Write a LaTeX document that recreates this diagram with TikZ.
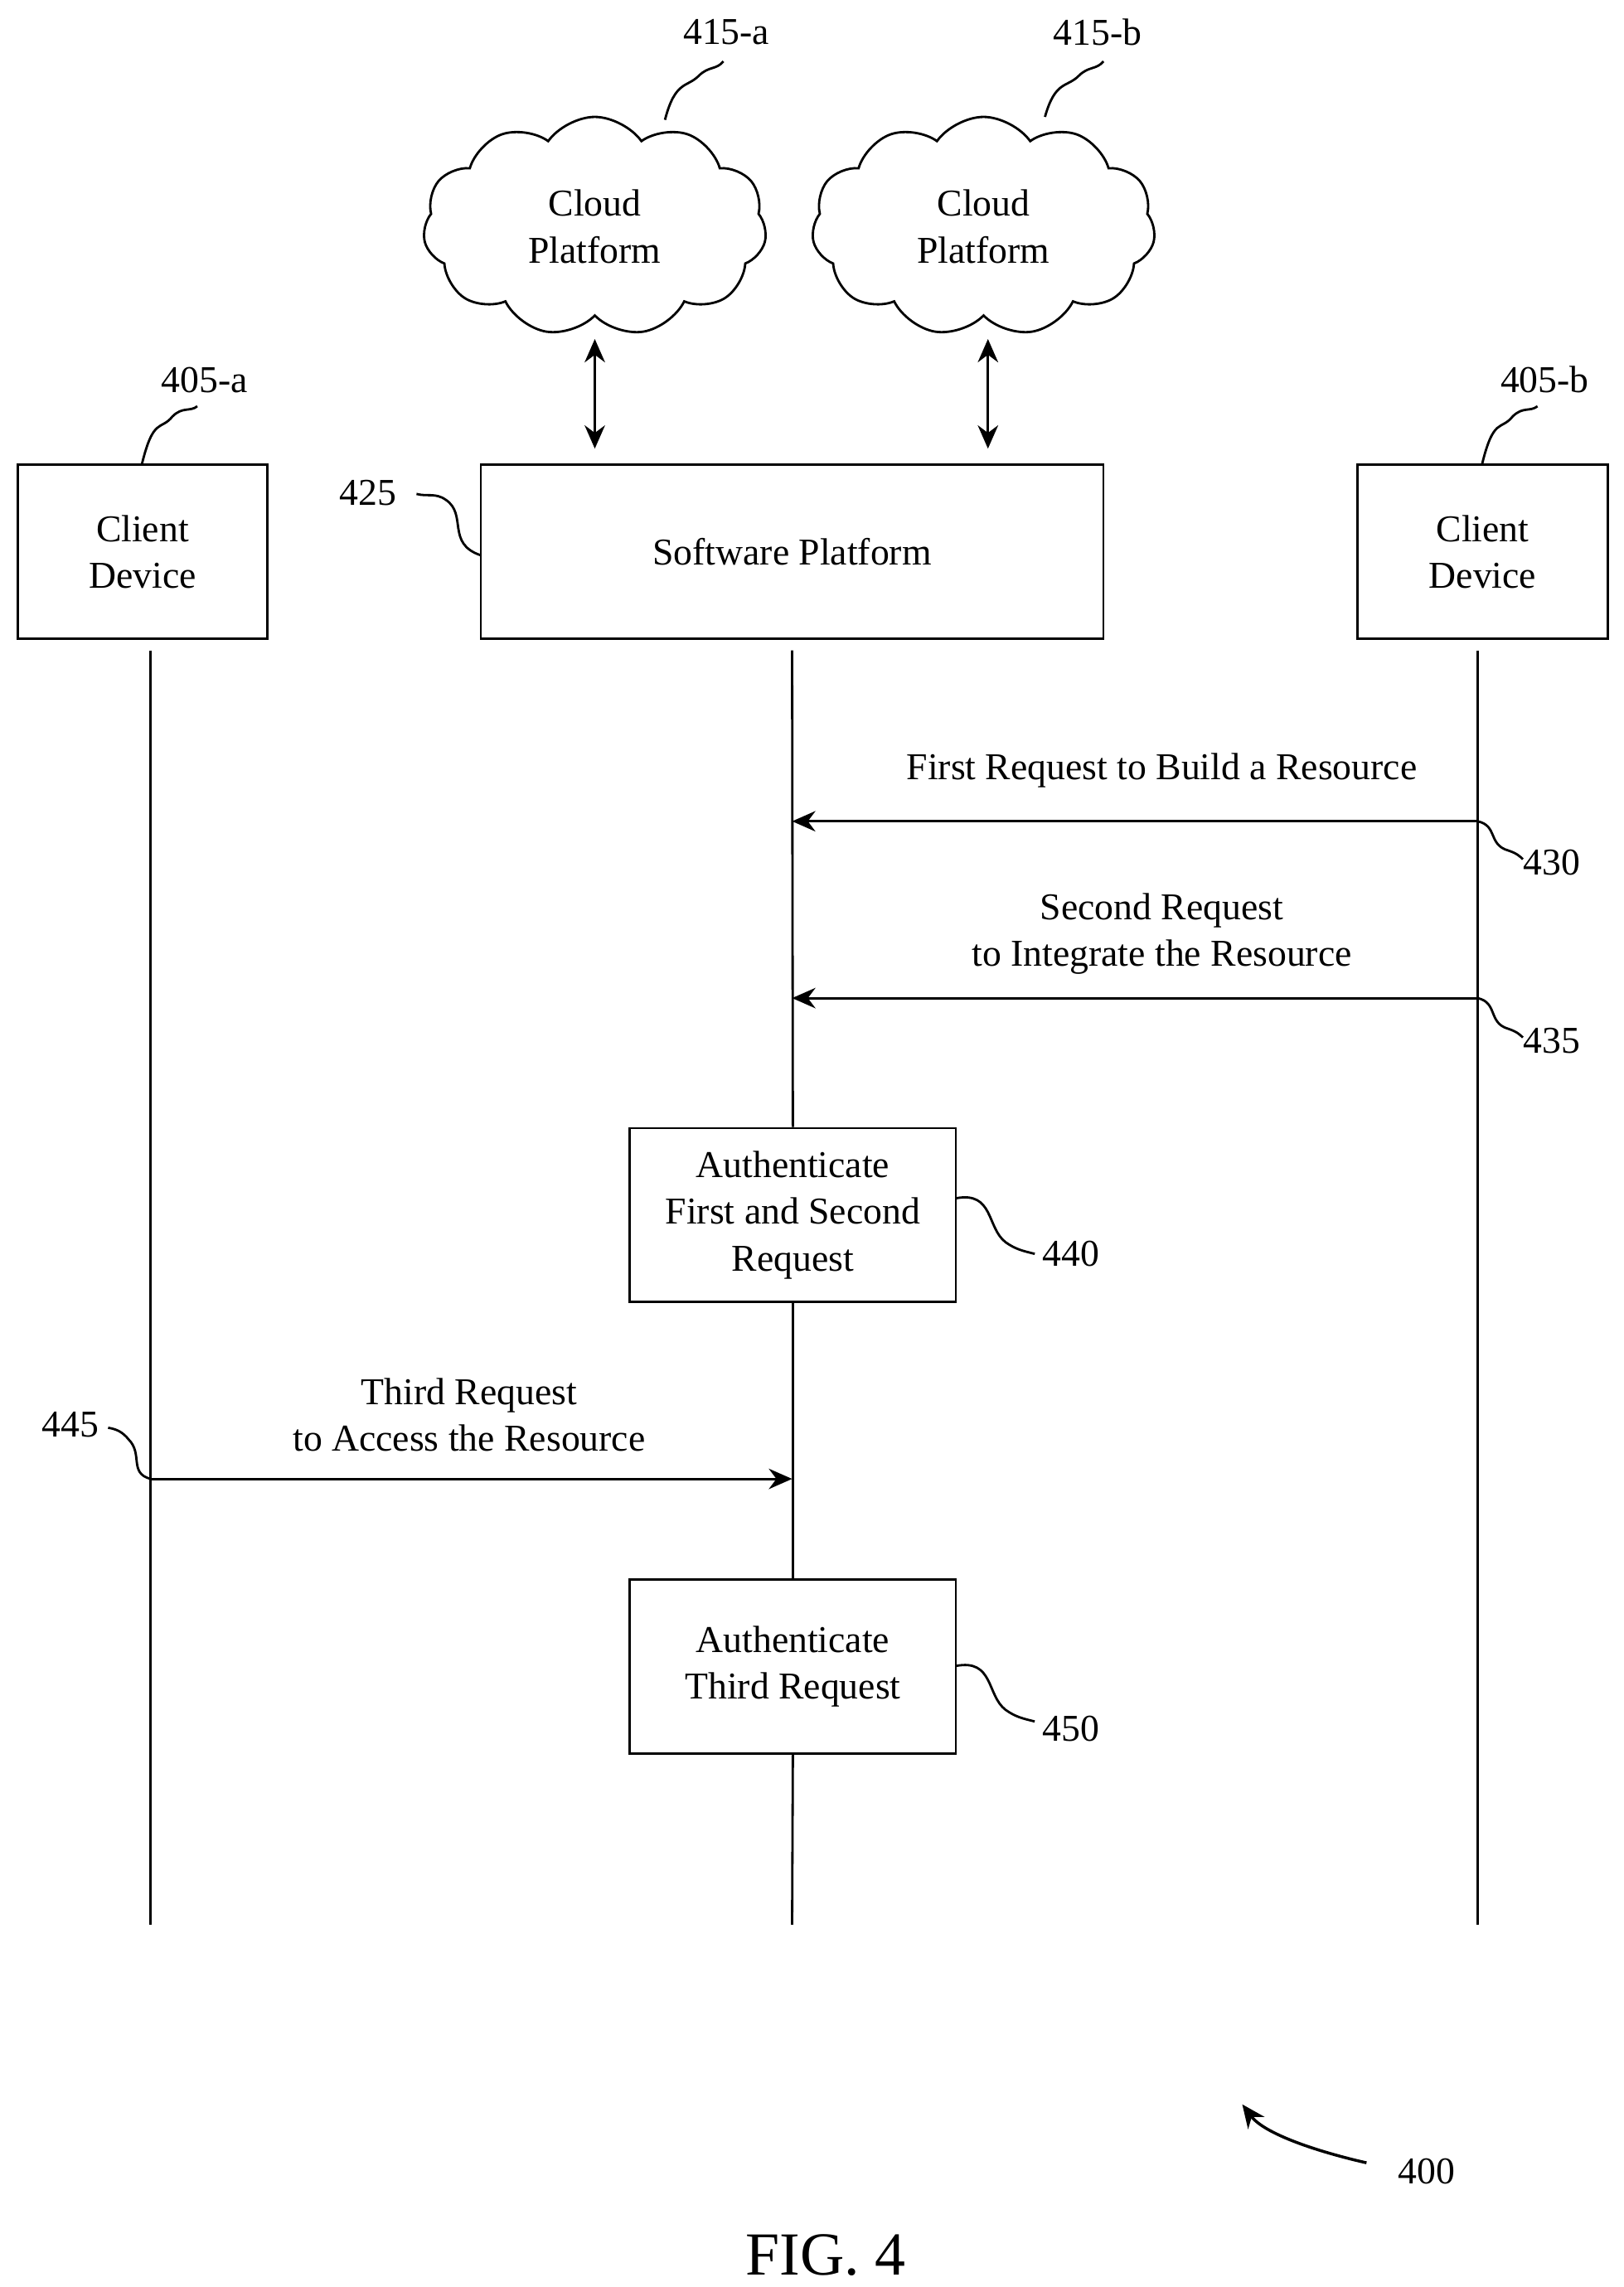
\documentclass[tikz,border=0pt]{standalone}
\usepackage{fontspec}
\setmainfont{Liberation Serif}
\usetikzlibrary{shapes.symbols,arrows.meta}
\begin{document}
\fontsize{13}{16}\selectfont
\begin{tikzpicture}[x=0.01763cm,y=-0.01763cm,>={Stealth[length=8pt,width=7pt]},thick,
  box/.style={draw,thick,inner sep=0pt,align=center},
  cld/.style={cloud,draw,thick,cloud puffs=11,cloud puff arc=110,aspect=1.5,minimum width=235*0.01763cm,minimum height=150*0.01763cm,align=center},
  lead/.style={thick}]
  \useasboundingbox (0,0) rectangle (1111,1565);
  % participants
  \node[box,minimum width=171*0.01763cm,minimum height=119*0.01763cm] (cda) at (97.5,377.5) {Client\\Device};
  \node[box,minimum width=171*0.01763cm,minimum height=119*0.01763cm] (cdb) at (1014.5,377.5) {Client\\Device};
  \node[box,minimum width=426*0.01763cm,minimum height=119*0.01763cm] (sp) at (542,377.5) {Software Platform};
  \node[cld] (cla) at (407,155) {Cloud\\Platform};
  \node[cld] (clb) at (673,155) {Cloud\\Platform};
  \draw[<->] (407,232) -- (407,307);
  \draw[<->] (676,232) -- (676,307);
  % steps
  \node[box,minimum width=223*0.01763cm,minimum height=119*0.01763cm] (auf) at (542.5,831.5) {Authenticate\\First and Second\\Request};
  \node[box,minimum width=223*0.01763cm,minimum height=119*0.01763cm] (aut) at (542.5,1140.5) {Authenticate\\Third Request};
  % lifelines
  \coordinate (la0) at (103,445); \coordinate (la1) at (103,1317);
  \coordinate (lb0) at (1011,445); \coordinate (lb1) at (1011,1317);
  \coordinate (ls1) at (542,1317);
  \draw (la0) -- (la1);
  \draw (lb0) -- (lb1);
  \draw (542,445) -- (auf.north);
  \draw (auf.south) -- (aut.north);
  \draw (aut.south) -- (ls1);
  % messages
  \coordinate (m1a) at (1011,562); \coordinate (m1b) at (542,562);
  \coordinate (m2a) at (1011,683); \coordinate (m2b) at (542,683);
  \coordinate (m3a) at (103,1012); \coordinate (m3b) at (542,1012);
  \draw[->] (m1a) -- (m1b);
  \draw[->] (m2a) -- (m2b);
  \draw[->] (m3a) -- (m3b);
  \node (t1) at (795,527) {First Request to Build a Resource};
  \node[align=center] (t2) at (795,639) {Second Request\\to Integrate the Resource};
  \node[align=center] (t3) at (321,968) {Third Request\\to Access the Resource};
  % reference numerals
  \node (n405a) at (140,260) {405-a};
  \node (n405b) at (1057,260) {405-b};
  \node (n415a) at (497,22) {415-a};
  \node (n415b) at (751,22) {415-b};
  \node (n425) at (252,337) {425};
  \node (n430) at (1062,590) {430};
  \node (n435) at (1062,712) {435};
  \node (n440) at (733,858) {440};
  \node (n445) at (48,975) {445};
  \node (n450) at (733,1183) {450};
  \node (n400) at (976,1486) {400};
  \draw[lead] (97,318) .. controls (105,285) and (110,295) .. (118,285) .. controls (125,278) and (130,282) .. (135,278);
  \draw[lead] (1014,318) .. controls (1022,285) and (1027,295) .. (1035,285) .. controls (1042,278) and (1047,282) .. (1052,278);
  \draw[lead] (455,82) .. controls (462,55) and (470,60) .. (478,52) .. controls (485,45) and (490,48) .. (495,42);
  \draw[lead] (715,80) .. controls (722,55) and (730,60) .. (738,52) .. controls (745,45) and (750,48) .. (755,42);
  \draw[lead] (329,380) .. controls (305,372) and (320,352) .. (305,342) .. controls (298,337) and (292,340) .. (285,338);
  \draw[lead] (m1a) .. controls (1025,565) and (1018,578) .. (1032,582) .. controls (1038,584) and (1040,586) .. (1042,588);
  \draw[lead] (m2a) .. controls (1025,686) and (1018,700) .. (1032,704) .. controls (1038,706) and (1040,708) .. (1042,710);
  \draw[lead] (654,820) .. controls (680,815) and (675,840) .. (688,850) .. controls (695,855) and (700,856) .. (708,858);
  \draw[lead] (654,1140) .. controls (680,1135) and (675,1160) .. (688,1170) .. controls (695,1175) and (700,1176) .. (708,1178);
  \draw[lead] (m3a) .. controls (88,1008) and (98,995) .. (88,985) .. controls (84,980) and (80,978) .. (74,977);
  \draw[->,thin,line width=1pt] (935,1480) .. controls (900,1472) and (865,1460) .. (850,1440);
  \node[font=\fontsize{21}{25}\selectfont] (fig) at (565,1543) {FIG. 4};
\end{tikzpicture}
\end{document}
